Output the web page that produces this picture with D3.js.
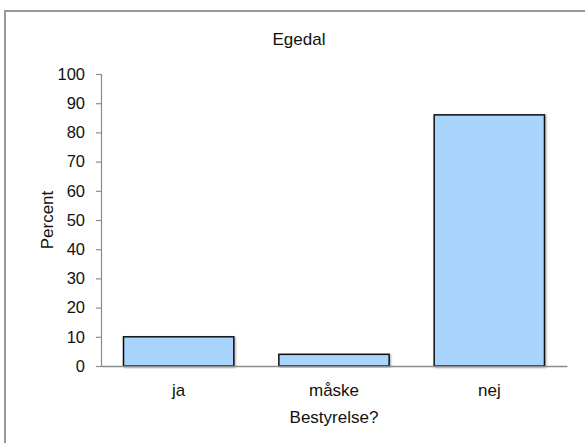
<!doctype html>
<html>
<head>
    <meta charset="utf8">
    <style>
        body { margin: 0; background: #fff; }
        svg text { font-family: "Liberation Sans", Arial, sans-serif; fill: #111; }
        .bar { fill: #a8d4fe; stroke: #111; stroke-width: 1.5px; }
</style>
    <script src="https://d3js.org/d3.v7.min.js"></script>
</head>
<body>
<svg width="585" height="443"></svg>
<script>

    var categories = ["ja", "måske", "nej"];
    var percents = [10, 4, 86];
    var yTicks = [0, 10, 20, 30, 40, 50, 60, 70, 80, 90, 100];

    var svg = d3.select("svg");

    // outer frame, cut off on the right and bottom
    svg.append("rect")
       .attr("x", 5).attr("y", 11)
       .attr("width", 600).attr("height", 460)
       .attr("fill", "none")
       .attr("stroke", "#999")
       .attr("stroke-width", 2);

    var defs = svg.append("defs");
    var f = defs.append("filter").attr("id", "shadow")
        .attr("x", "-10%").attr("y", "-10%").attr("width", "120%").attr("height", "120%");
    f.append("feDropShadow")
     .attr("dx", 1).attr("dy", 1).attr("stdDeviation", 1.2)
     .attr("flood-color", "#000").attr("flood-opacity", 0.35);

    var plotLeft = 101, plotRight = 567, plotTop = 74, plotBottom = 366;

    var x = d3.scaleBand().domain(categories).range([plotLeft, plotRight])
              .paddingInner(0.29).paddingOuter(0.145);
    var y = d3.scaleLinear().domain([0, 100]).range([plotBottom, plotTop]);

    svg.append("text")
       .attr("x", 299).attr("y", 44.5)
       .attr("text-anchor", "middle")
       .attr("font-size", "17px")
       .text("Egedal");

    var yAxis = svg.append("g")
       .attr("transform", "translate(" + plotLeft + ",0)")
       .call(d3.axisLeft(y).tickValues(yTicks).tickSize(5).tickPadding(11));
    yAxis.selectAll("path, line").attr("stroke", "#8c8c8c").attr("stroke-width", 1.2);
    yAxis.selectAll("text").attr("font-size", "16.5px").attr("fill", "#111")
         .attr("font-family", "Liberation Sans, Arial, sans-serif");

    svg.append("g").selectAll(".bar")
       .data(percents)
       .enter().append("rect")
       .attr("class", "bar")
       .attr("filter", "url(#shadow)")
       .attr("x", function(d, i) { return x(categories[i]); })
       .attr("y", function(d) { return y(d); })
       .attr("width", x.bandwidth())
       .attr("height", function(d) { return plotBottom - y(d); });

    var xAxis = svg.append("g")
       .attr("transform", "translate(0," + plotBottom + ")")
       .call(d3.axisBottom(x).tickSize(0).tickPadding(18).tickSizeOuter(0));
    xAxis.select("path").attr("stroke", "#8c8c8c").attr("stroke-width", 1.5);
    xAxis.selectAll("text").attr("font-size", "17px").attr("fill", "#111")
         .attr("font-family", "Liberation Sans, Arial, sans-serif");

    svg.append("text")
       .attr("x", (plotLeft + plotRight) / 2).attr("y", 423)
       .attr("text-anchor", "middle")
       .attr("font-size", "17px")
       .text("Bestyrelse?");

    svg.append("text")
       .attr("transform", "translate(53,220) rotate(-90)")
       .attr("text-anchor", "middle")
       .attr("font-size", "17px")
       .text("Percent");

</script>
</body>
</html>
